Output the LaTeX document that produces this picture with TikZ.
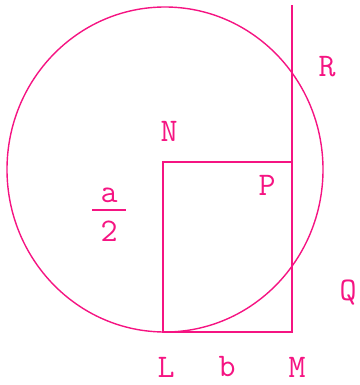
\documentclass[tikz,border=0pt]{standalone}
\usepackage{fontspec}
\definecolor{rosepink}{RGB}{245,20,130}

\begin{document}
\begin{tikzpicture}[x=1pt, y=-1pt,
  edge/.style={draw=rosepink, line width=1.4pt},
  lbl/.style={font=\fontsize{33}{36}\selectfont\ttfamily, text=rosepink, inner sep=0pt}
]
  \useasboundingbox (0,0) rectangle (359,385);

  % corners of the box and the tangent line
  \coordinate (L) at (163,332);
  \coordinate (N) at (163,162);
  \coordinate (P) at (292,162);
  \coordinate (M) at (292,332);
  \coordinate (top) at (292,5);

  \draw[edge] (165,169.5) ellipse [x radius=158, y radius=162.5];
  \draw[edge] (L) -- (N) -- (P) -- (M) -- cycle;
  \draw[edge] (P) -- (top);

  \node[lbl] (nN) at (169,131) {N};
  \node[lbl] (nP) at (267,185) {P};
  \node[lbl] (nR) at (327,67)  {R};
  \node[lbl] (nQ) at (348,293) {Q};
  \node[lbl] (nL) at (166,367) {L};
  \node[lbl] (nb) at (227,367) {b};
  \node[lbl] (nM) at (297,367) {M};

  % a over 2
  \node[lbl] (na) at (109,195) {a};
  \node[lbl] (n2) at (109,231) {2};
  \draw[edge, line width=1.6pt] (92,210) -- (126,210);
\end{tikzpicture}
\end{document}
